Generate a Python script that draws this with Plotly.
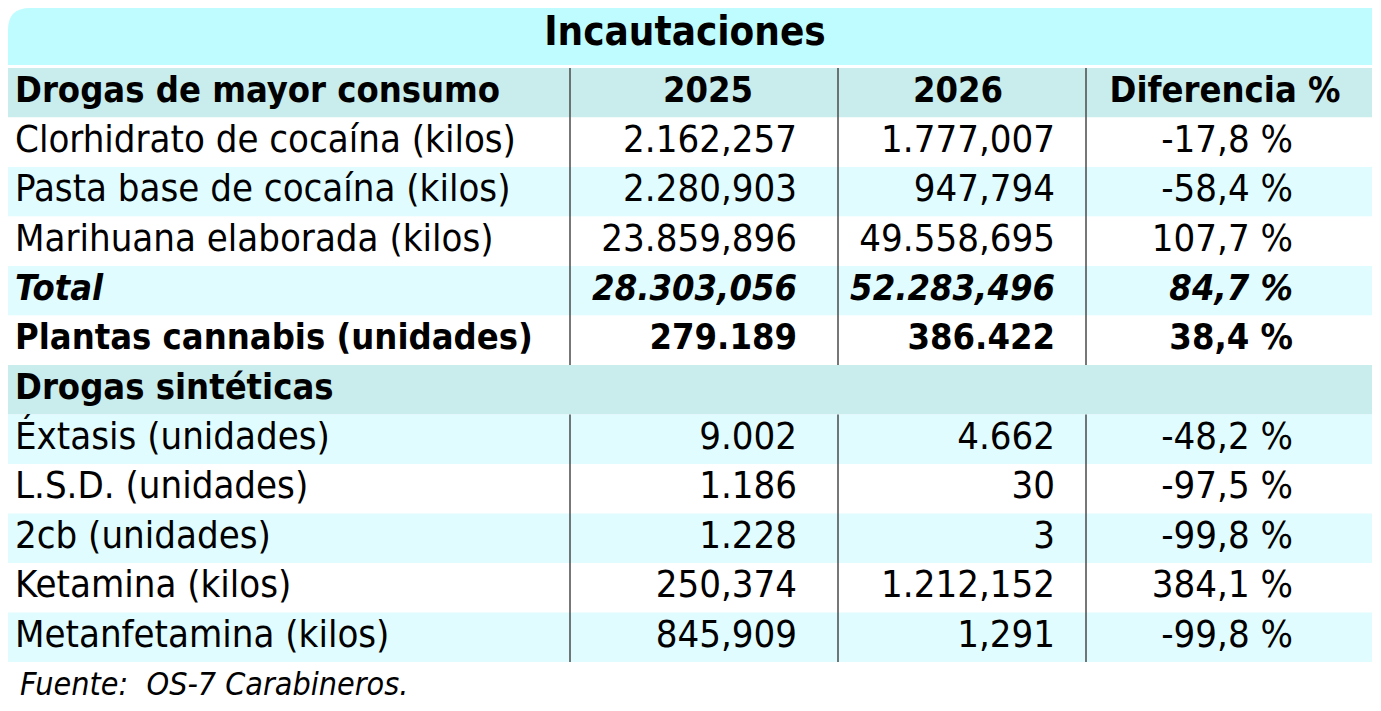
import plotly.graph_objects as go

# table content
title = "Incautaciones"
headers = ["Drogas de mayor consumo", "2025", "2026", "Diferencia %"]
labels = ["Clorhidrato de cocaína (kilos)", "Pasta base de cocaína (kilos)",
          "Marihuana elaborada (kilos)", "Total", "Plantas cannabis (unidades)",
          "Drogas sintéticas", "Éxtasis (unidades)", "L.S.D. (unidades)",
          "2cb (unidades)", "Ketamina (kilos)", "Metanfetamina (kilos)"]
v2025 = ["2.162,257", "2.280,903", "23.859,896", "28.303,056", "279.189",
         "", "9.002", "1.186", "1.228", "250,374", "845,909"]
v2026 = ["1.777,007", "947,794", "49.558,695", "52.283,496", "386.422",
         "", "4.662", "30", "3", "1.212,152", "1,291"]
diff = ["-17,8 %", "-58,4 %", "107,7 %", "84,7 %", "38,4 %",
        "", "-48,2 %", "-97,5 %", "-99,8 %", "384,1 %", "-99,8 %"]
# row style: n normal, t total (bold italic), b bold, s section
styles = ["n", "n", "n", "t", "b", "s", "n", "n", "n", "n", "n"]
source = "Fuente:  OS-7 Carabineros."

W, H = 1381, 711
OFF = 8          # page body margin, axes are set up so data units = page pixels
TOP = 68
ROW_H = 49.5
RIGHT = 1372
col_lines = [570, 838, 1086]
FONT = "DejaVu Sans Condensed, Liberation Sans, sans-serif"
FS = 38
FSB = 36

C_TITLE = "#bffcff"
C_HEAD = "#c9ecec"
C_LIGHT = "#e0fcff"


def fmt(s, st):
    if s == "":
        return s
    if st == "t":
        return "<b><i>" + s + "</i></b>"
    if st in ("b", "s"):
        return "<b>" + s + "</b>"
    return s


def font(st):
    return FS if st == "n" else FSB


fig = go.Figure()
shapes = []

# title band with rounded top-left corner
ytop = (OFF - TOP) / ROW_H - 0.5
ybot = -0.5 - 3 / ROW_H
r = 22
ry = r / ROW_H
x0 = OFF
shapes.append(dict(type="path", xref="x", yref="y", fillcolor=C_TITLE, line_width=0, layer="below",
                   path=f"M {x0},{ybot} L {x0},{ytop+ry} Q {x0},{ytop} {x0+r},{ytop} "
                        f"L {RIGHT},{ytop} L {RIGHT},{ybot} Z"))

# row backgrounds: header row is 0, data rows 1..11; plain rows alternate white / light
row_styles = ["s"] + styles
white = False
for i, st in enumerate(row_styles):
    if st == "s":
        col = C_HEAD
    else:
        white = not white
        col = "white" if white else C_LIGHT
    shapes.append(dict(type="rect", xref="x", yref="y", x0=0, x1=RIGHT, y0=i - 0.5, y1=i + 0.5,
                       fillcolor=col, line_width=0, layer="below"))

# vertical separators, broken at section rows
segs = []
start = None
for i, st in enumerate(row_styles):
    if st == "s" and i > 0:
        if start is not None:
            segs.append((start, i - 1))
        start = None
    elif start is None:
        start = i
segs.append((start, len(row_styles) - 1))
for xl in col_lines:
    for a, b in segs:
        shapes.append(dict(type="line", xref="x", yref="y", x0=xl, x1=xl, y0=a - 0.5, y1=b + 0.5,
                           line=dict(color="#4a4a4a", width=1.5)))

rows = list(range(1, len(labels) + 1))
sizes = [font(st) for st in styles]

# header texts
fig.add_trace(go.Scatter(x=[15], y=[0], mode="text", text=["<b>" + headers[0] + "</b>"],
                         textposition="middle right", textfont=dict(family=FONT, size=FSB, color="black")))
fig.add_trace(go.Scatter(x=[708, 958, 1225], y=[0, 0, 0], mode="text",
                         text=["<b>" + h + "</b>" for h in headers[1:]],
                         textposition="middle center", textfont=dict(family=FONT, size=FSB, color="black")))

# body
fig.add_trace(go.Scatter(x=[15] * len(labels), y=rows, mode="text",
                         text=[fmt(s, st) for s, st in zip(labels, styles)],
                         textposition="middle right", textfont=dict(family=FONT, size=sizes, color="black")))
for xr, vals in [(797, v2025), (1055, v2026), (1293, diff)]:
    fig.add_trace(go.Scatter(x=[xr] * len(vals), y=rows, mode="text",
                             text=[fmt(s, st) for s, st in zip(vals, styles)],
                             textposition="middle left", textfont=dict(family=FONT, size=sizes, color="black")))

# title and source
fig.add_trace(go.Scatter(x=[685], y=[(35 - TOP) / ROW_H - 0.5], mode="text", text=["<b>" + title + "</b>"],
                         textposition="middle center", textfont=dict(family=FONT, size=40, color="black")))
fig.add_trace(go.Scatter(x=[20], y=[len(labels) + 1], mode="text", text=["<i>" + source + "</i>"],
                         textposition="middle right", textfont=dict(family=FONT, size=32, color="black")))

fig.update_traces(cliponaxis=False, hoverinfo="skip")
fig.update_layout(
    width=W, height=H, margin=dict(l=0, r=0, t=0, b=0),
    paper_bgcolor="white", plot_bgcolor="white", showlegend=False,
    shapes=shapes,
    xaxis=dict(range=[OFF, W + OFF], visible=False, fixedrange=True),
    yaxis=dict(range=[(H + OFF - TOP) / ROW_H - 0.5, (OFF - TOP) / ROW_H - 0.5],
               visible=False, fixedrange=True),
)
fig.write_html("out.html")
